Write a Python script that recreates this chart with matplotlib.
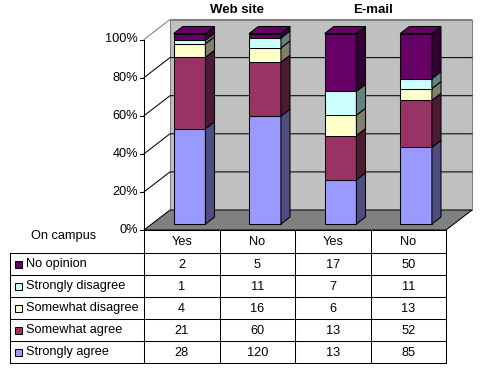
"""3D-style 100% stacked columns with data table: opinion on Web site / E-mail"""

import matplotlib.pyplot as plt
from matplotlib.patches import Polygon
import numpy as np

plt.rcParams["font.family"] = ["Liberation Sans", "DejaVu Sans"]

groups = ["Web site", "E-mail"]
campus = ["Yes", "No", "Yes", "No"]
series = ["Strongly agree", "Somewhat agree", "Somewhat disagree",
          "Strongly disagree", "No opinion"]
strongly_agree = [28, 120, 13, 85]
somewhat_agree = [21, 60, 13, 52]
somewhat_disagree = [4, 16, 6, 13]
strongly_disagree = [1, 11, 7, 11]
no_opinion = [2, 5, 17, 50]
yticks = [0, 20, 40, 60, 80, 100]

face_colors = ["#9999FF", "#993366", "#FFFFCC", "#CCFFFF", "#660066"]
side_colors = ["#4D4D80", "#4D1A33", "#80806A", "#668080", "#330033"]

counts = np.array([strongly_agree, somewhat_agree, somewhat_disagree,
                   strongly_disagree, no_opinion], dtype=float)
pct = counts / counts.sum(axis=0) * 100

W, H = 483, 372
fs = 9.2
fig = plt.figure(figsize=(W / 100, H / 100), dpi=100)

# overlay axes in pixel units for table and free text
tax = fig.add_axes([0, 0, 1, 1])
tax.set_xlim(0, W)
tax.set_ylim(H, 0)
tax.axis("off")

left, right, y0px, y100px = 144, 446, 230, 39.5
ax = fig.add_axes([left / W, 1 - y0px / H, (right - left) / W, (y0px - y100px) / H])
ax.set_xlim(-0.5, 3.5)
ax.set_ylim(0, 100)
ax.axis("off")

px_x = (right - left) / 4          # pixels per category
px_y = (y0px - y100px) / 100       # pixels per percent
DX = 26 / px_x                     # depth offset, categories
DY = 20 / px_y                     # depth offset, percent
lw = 0.75


def pt(x, y, d):
    return (x + d * DX, y + d * DY)


def poly(pts, fc, ec="black", z=1):
    ax.add_patch(Polygon(pts, closed=True, facecolor=fc, edgecolor=ec,
                         linewidth=lw, clip_on=False, zorder=z))


x_lo, x_hi = -0.5, 3.5
# walls and floor
poly([pt(x_lo, 0, 0), pt(x_lo, 0, 1), pt(x_lo, 100, 1), pt(x_lo, 100, 0)], "white", ec="none")
poly([pt(x_lo, 0, 1), pt(x_hi, 0, 1), pt(x_hi, 100, 1), pt(x_lo, 100, 1)], "#C0C0C0", ec="#808080")
poly([pt(x_lo, 0, 0), pt(x_hi, 0, 0), pt(x_hi, 0, 1), pt(x_lo, 0, 1)], "#808080")

for t in yticks[1:]:
    xs, ys = zip(pt(x_lo, t, 0), pt(x_lo, t, 1), pt(x_hi, t, 1))
    color = "#808080" if t == 100 else "black"
    ax.plot(xs, ys, color=color, lw=lw, clip_on=False, zorder=2)

# value axis
ax.plot([x_lo, x_lo], [0, 100], color="black", lw=lw, clip_on=False, zorder=3)
for t in yticks:
    ax.plot([x_lo - 4 / px_x, x_lo], [t, t], color="black", lw=lw, clip_on=False, zorder=3)
    ax.text(x_lo - 6 / px_x, t, f"{t}%", ha="right", va="center", fontsize=fs)

# bars
w, d0, d1 = 0.42, 0.3, 0.65
for i in range(len(campus)):
    bottom = 0
    xa, xb = i - w / 2, i + w / 2
    for s in range(len(series)):
        top = bottom + pct[s, i]
        poly([pt(xa, bottom, d0), pt(xb, bottom, d0), pt(xb, top, d0), pt(xa, top, d0)],
             face_colors[s], z=4)
        poly([pt(xb, bottom, d0), pt(xb, bottom, d1), pt(xb, top, d1), pt(xb, top, d0)],
             side_colors[s], z=4)
        bottom = top
    poly([pt(xa, 100, d0), pt(xb, 100, d0), pt(xb, 100, d1), pt(xa, 100, d1)],
         face_colors[-1], z=4)

# group titles
tax.text(237, 10, groups[0], ha="center", va="center", fontsize=9.5, fontweight="bold")
tax.text(373, 10, groups[1], ha="center", va="center", fontsize=9.5, fontweight="bold")

# data table
cols = np.linspace(left, right, 5)
rows = np.linspace(253, 363, 6)
tab_left = 10
tax.text(31, 236, "On campus", ha="left", va="center", fontsize=fs)
for x in cols:
    tax.plot([x, x], [y0px, rows[-1]], color="black", lw=lw)
tax.plot([left, right], [y0px, y0px], color="black", lw=lw)
for y in rows:
    tax.plot([tab_left, right], [y, y], color="black", lw=lw)
tax.plot([tab_left, tab_left], [rows[0], rows[-1]], color="black", lw=lw)
for j, c in enumerate(campus):
    tax.text((cols[j] + cols[j + 1]) / 2, (y0px + rows[0]) / 2 + 0.5, c,
             ha="center", va="center", fontsize=fs)

for r, s in enumerate(reversed(range(len(series)))):
    yc = (rows[r] + rows[r + 1]) / 2
    tax.add_patch(plt.Rectangle((14.5, yc - 3.5), 7, 7, facecolor=face_colors[s],
                                edgecolor="black", linewidth=lw))
    tax.text(26, yc + 0.5, series[s], ha="left", va="center", fontsize=fs)
    for j in range(len(campus)):
        tax.text((cols[j] + cols[j + 1]) / 2, yc + 0.5, f"{int(counts[s, j])}",
                 ha="center", va="center", fontsize=fs)

fig.savefig("out.png", dpi=100)
